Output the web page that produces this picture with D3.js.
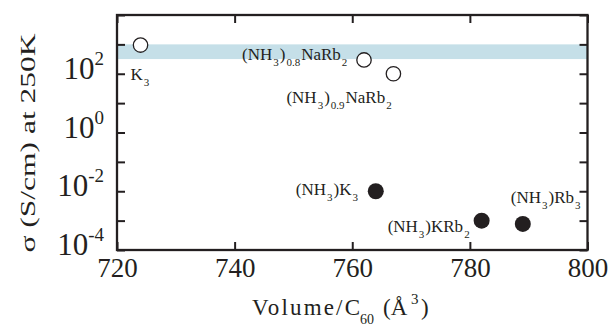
<!DOCTYPE html>
<html>
<head>
<meta charset="utf-8">
<script src="https://cdn.jsdelivr.net/npm/d3@7"></script>
<style>
  html, body { margin: 0; padding: 0; background: #fff; }
  svg { display: block; font-family: "Liberation Serif", "Times New Roman", serif; }
</style>
</head>
<body>
<svg id="chart" width="608" height="328"></svg>
<script>
// Conductivity at 250 K versus volume per C60 for ammoniated alkali fullerides
const openNames  = ["K3", "(NH3)0.8NaRb2", "(NH3)0.9NaRb2"];
const openVolume = [724, 762, 767];
const openSigma  = [950, 295, 100];

const filledNames  = ["(NH3)K3", "(NH3)KRb2", "(NH3)Rb3"];
const filledVolume = [764, 782, 789];
const filledSigma  = [0.01, 0.001, 0.00077];

const xTicks = [720, 740, 760, 780, 800];
const yTicks = [1e-4, 1e-3, 1e-2, 1e-1, 1, 1e1, 1e2, 1e3, 1e4];
const yLabelExps = [2, 0, -2, -4];
const bandRange = [316, 1000];

// Label text pieces: [text, isSubscript]
const labelParts = {
  "K3": [["K", false], ["3", true]],
  "(NH3)0.8NaRb2": [["(NH", false], ["3", true], [")", false], ["0.8", true], ["NaRb", false], ["2", true]],
  "(NH3)0.9NaRb2": [["(NH", false], ["3", true], [")", false], ["0.9", true], ["NaRb", false], ["2", true]],
  "(NH3)K3": [["(NH", false], ["3", true], [")K", false], ["3", true]],
  "(NH3)KRb2": [["(NH", false], ["3", true], [")KRb", false], ["2", true]],
  "(NH3)Rb3": [["(NH", false], ["3", true], [")Rb", false], ["3", true]]
};
// label offsets from each marker to the start of the text baseline
const labelOffsets = {
  "K3": [-10, 35],
  "(NH3)0.8NaRb2": [-122, 0],
  "(NH3)0.9NaRb2": [-107, 29],
  "(NH3)K3": [-80, 4],
  "(NH3)KRb2": [-94, 11],
  "(NH3)Rb3": [-12, -21]
};

const ink = "#231f20";
const margin = { left: 117, right: 20.5, top: 15, bottom: 78 };
const W = 608, H = 328;

const svg = d3.select("#chart");

const x = d3.scaleLinear().domain([720, 800]).range([margin.left, W - margin.right]);
const y = d3.scaleLog().domain([1e-4, 1e4]).range([H - margin.bottom, margin.top]);

// shaded band
svg.append("rect")
  .attr("x", x(720)).attr("width", x(800) - x(720))
  .attr("y", y(bandRange[1])).attr("height", y(bandRange[0]) - y(bandRange[1]))
  .attr("fill", "#c5dfe8");

// axes: ticks point inward on all four sides
function styleAxis(g) {
  g.select(".domain").remove();
  g.selectAll(".tick line").attr("stroke", ink).attr("stroke-width", 2);
}

const gx = svg.append("g")
  .attr("transform", `translate(0,${y(1e-4)})`)
  .call(d3.axisBottom(x).tickValues(xTicks).tickSizeInner(-8).tickSizeOuter(0).tickPadding(6).tickFormat(d3.format("d")));
styleAxis(gx);
gx.selectAll(".tick text")
  .attr("fill", ink).attr("font-size", 27).attr("font-family", "Liberation Serif").attr("dy", "0.78em");

const gxt = svg.append("g")
  .attr("transform", `translate(0,${y(1e4)})`)
  .call(d3.axisTop(x).tickValues(xTicks).tickSizeInner(-8).tickSizeOuter(0).tickFormat(""));
styleAxis(gxt);

const gy = svg.append("g")
  .attr("transform", `translate(${x(720)},0)`)
  .call(d3.axisLeft(y).tickValues(yTicks).tickSizeInner(-8).tickSizeOuter(0).tickFormat(""));
styleAxis(gy);

const gyr = svg.append("g")
  .attr("transform", `translate(${x(800)},0)`)
  .call(d3.axisRight(y).tickValues(yTicks).tickSizeInner(-8).tickSizeOuter(0).tickFormat(""));
styleAxis(gyr);

// y tick labels as 10 with superscript exponent
const yl = svg.append("g");
yLabelExps.forEach(e => {
  const t = yl.append("text")
    .attr("x", x(720) - 13)
    .attr("y", y(Math.pow(10, e)) + 5)
    .attr("text-anchor", "end")
    .attr("fill", ink)
    .attr("font-size", 31);
  t.append("tspan").text("10");
  t.append("tspan").attr("font-size", 19).attr("dy", -14).text(String(e));
});

// frame
svg.append("rect")
  .attr("x", x(720)).attr("y", y(1e4))
  .attr("width", x(800) - x(720)).attr("height", y(1e-4) - y(1e4))
  .attr("fill", "none").attr("stroke", ink).attr("stroke-width", 2.3);

// markers
svg.append("g").selectAll("circle")
  .data(openVolume.map((v, i) => ({ v, s: openSigma[i] })))
  .join("circle")
  .attr("cx", d => x(d.v)).attr("cy", d => y(d.s)).attr("r", 7.2)
  .attr("fill", "#fff").attr("stroke", ink).attr("stroke-width", 1.3);

svg.append("g").selectAll("circle")
  .data(filledVolume.map((v, i) => ({ v, s: filledSigma[i] })))
  .join("circle")
  .attr("cx", d => x(d.v)).attr("cy", d => y(d.s)).attr("r", 8)
  .attr("fill", ink);

// point labels
function drawLabel(name, px, py) {
  const off = labelOffsets[name];
  const t = svg.append("text")
    .attr("x", px + off[0]).attr("y", py + off[1])
    .attr("fill", ink).attr("font-size", 17);
  let shifted = false;
  labelParts[name].forEach(([txt, sub]) => {
    const ts = t.append("tspan").text(txt);
    if (sub && !shifted) { ts.attr("font-size", 11).attr("dy", 6).attr("dx", 1); shifted = true; }
    else if (sub && shifted) { ts.attr("font-size", 11).attr("dx", 1); }
    else if (!sub && shifted) { ts.attr("dy", -6).attr("dx", 1); shifted = false; }
  });
}
openNames.forEach((n, i) => drawLabel(n, x(openVolume[i]), y(openSigma[i])));
filledNames.forEach((n, i) => drawLabel(n, x(filledVolume[i]), y(filledSigma[i])));

// y axis title
svg.append("text")
  .attr("transform", `translate(35,143) rotate(-90)`)
  .attr("text-anchor", "middle")
  .attr("fill", ink)
  .attr("font-size", 22)
  .attr("textLength", 219)
  .attr("lengthAdjust", "spacingAndGlyphs")
  .text("\u03c3  (S/cm) at 250K");

// x axis title: Volume/C60 (Å3)
const xTitle = svg.append("g").attr("fill", ink);
xTitle.append("text").attr("x", 252).attr("y", 315).attr("font-size", 23)
  .attr("textLength", 108).attr("lengthAdjust", "spacing").text("Volume/C");
xTitle.append("text").attr("x", 360).attr("y", 324).attr("font-size", 14).text("60");
xTitle.append("text").attr("x", 383).attr("y", 315).attr("font-size", 23).text("(\u00c5");
xTitle.append("text").attr("x", 411).attr("y", 304).attr("font-size", 15).text("3");
xTitle.append("text").attr("x", 421).attr("y", 315).attr("font-size", 23).text(")");
</script>
</body>
</html>
